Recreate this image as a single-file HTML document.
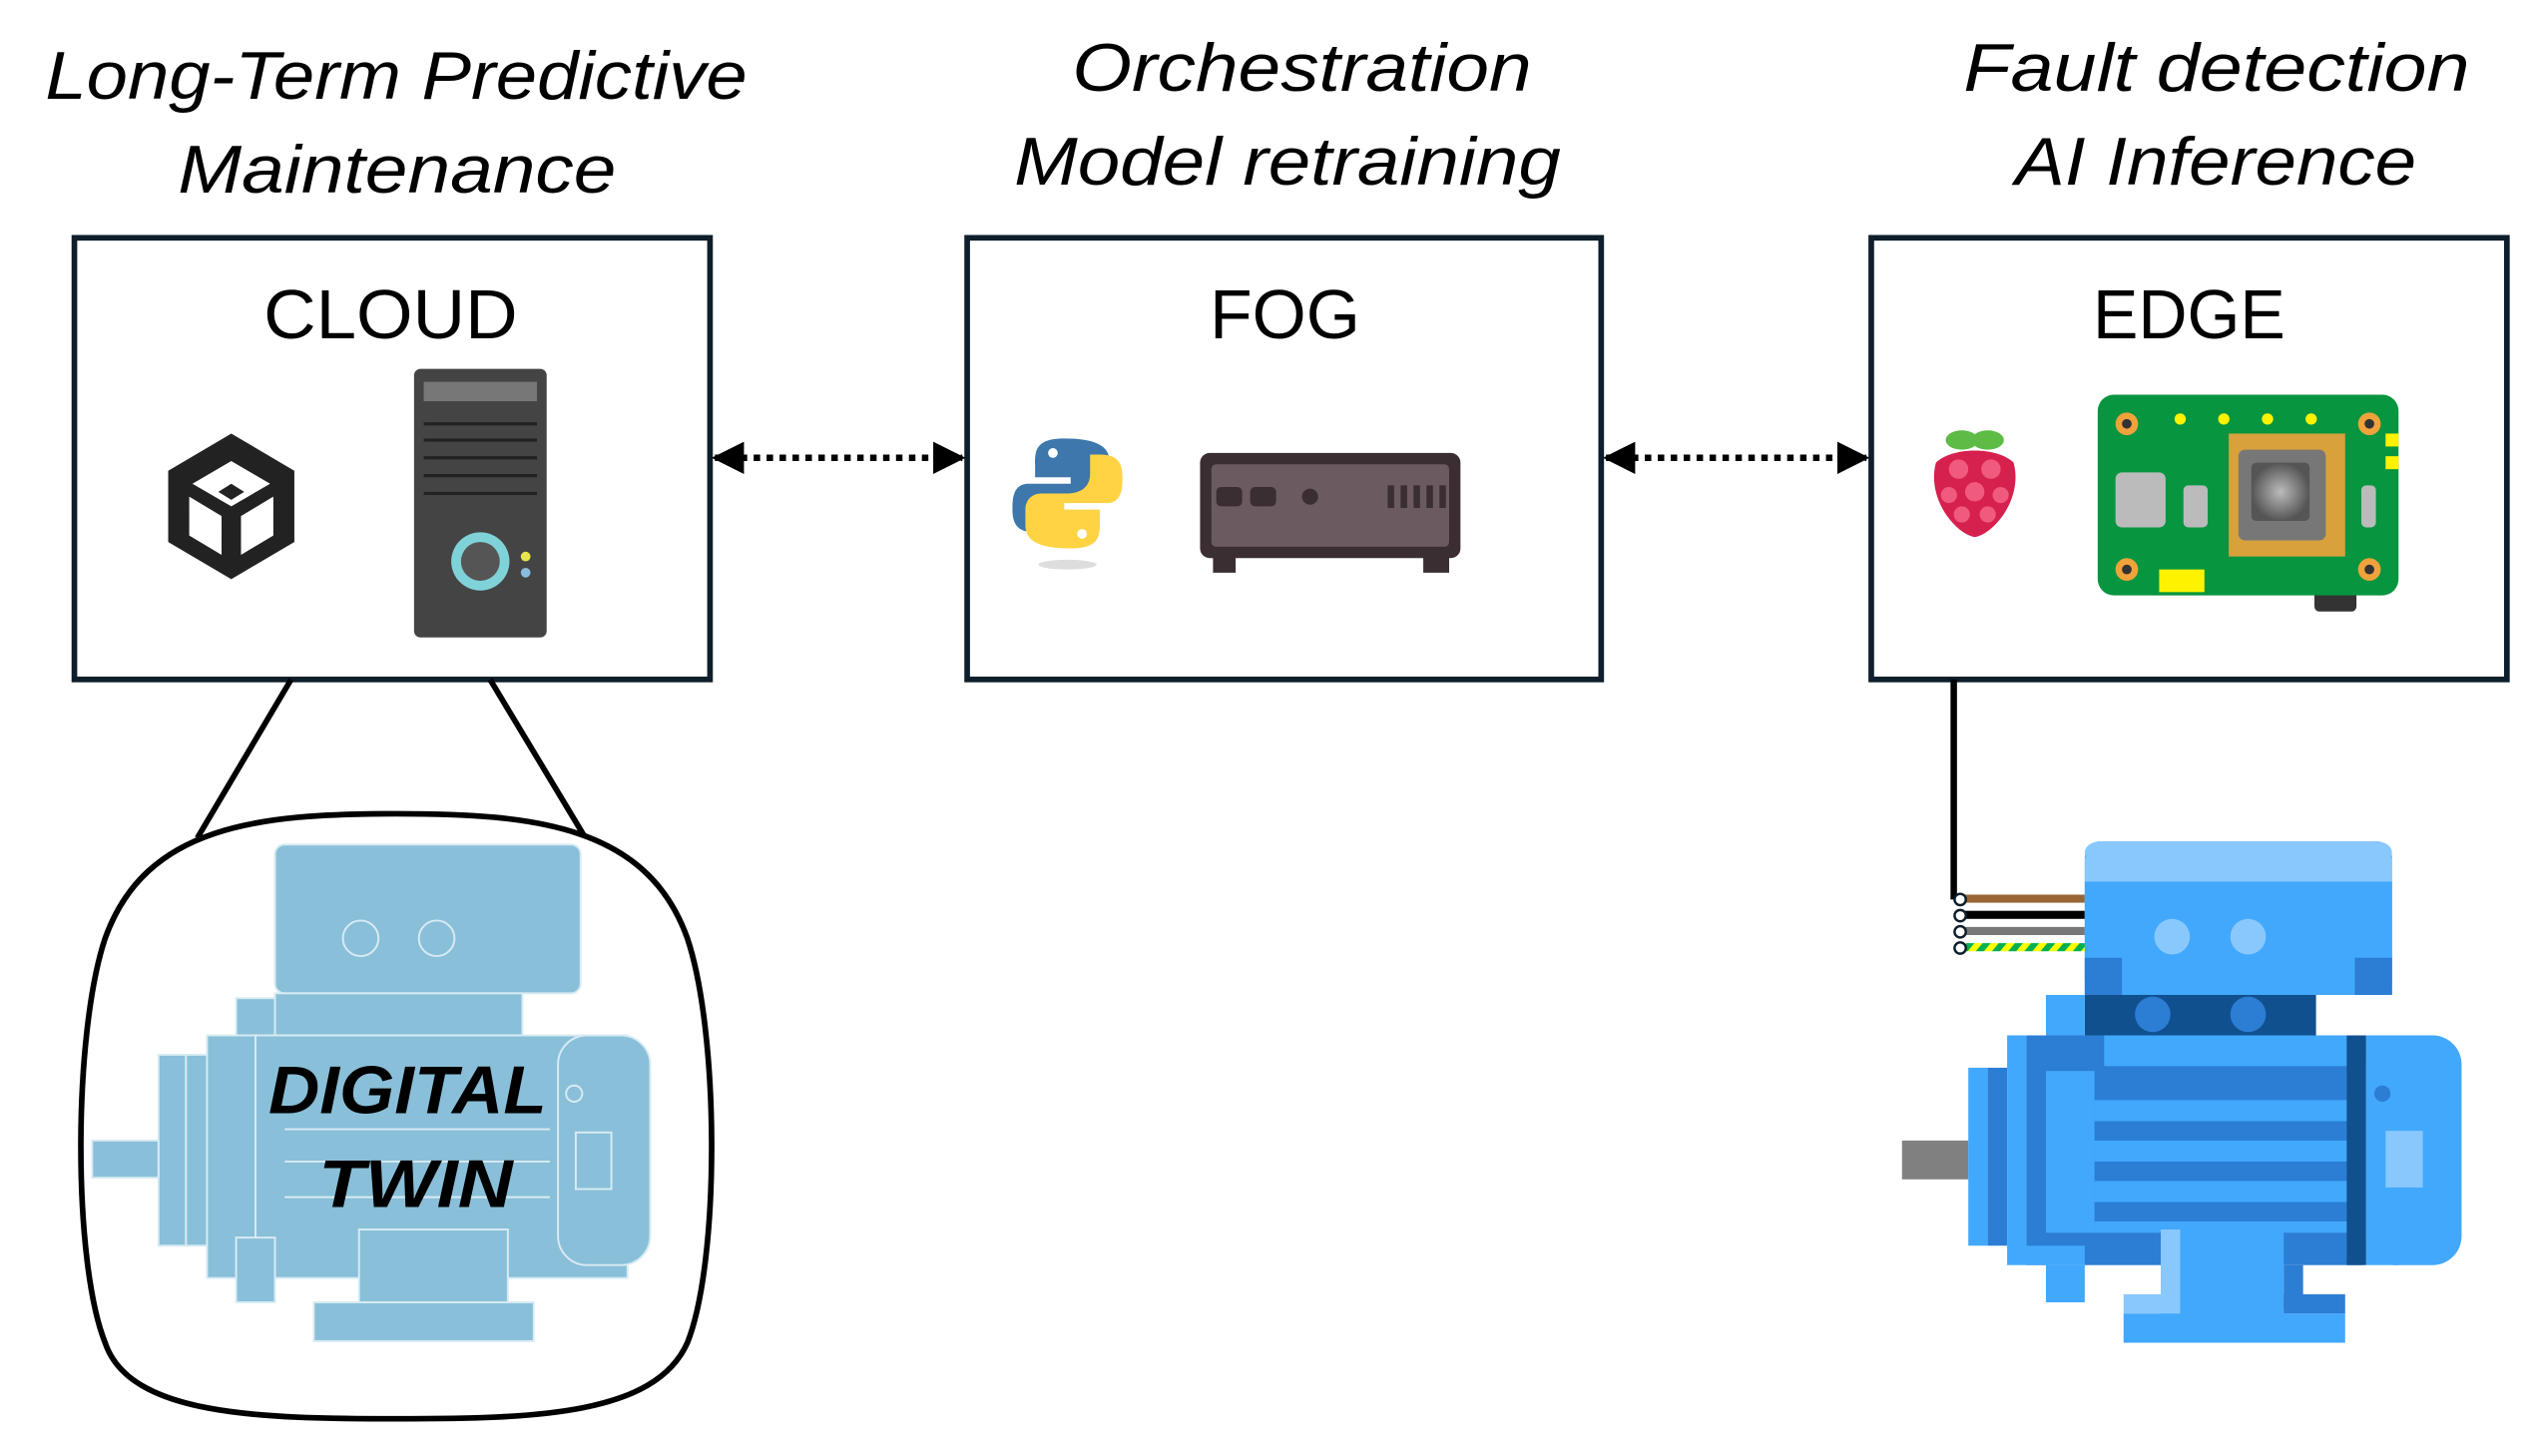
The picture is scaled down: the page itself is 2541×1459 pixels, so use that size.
<!DOCTYPE html>
<html><head><meta charset="utf-8"><style>
html,body{margin:0;padding:0;background:#fff;}
svg{display:block;}
text{font-family:"Liberation Sans",sans-serif;}
</style></head><body>
<svg width="2541" height="1459" viewBox="0 0 1568 900" preserveAspectRatio="none" xmlns="http://www.w3.org/2000/svg">
<defs>
<marker id="ah" viewBox="0 0 10 10" refX="9" refY="5" markerWidth="5" markerHeight="5" orient="auto-start-reverse"><path d="M0,0 L10,5 L0,10 z" fill="#000"/></marker>
<pattern id="gy" width="10" height="6" patternUnits="userSpaceOnUse" patternTransform="skewX(-40)"><rect width="10" height="6" fill="#00b050"/><rect width="5" height="6" fill="#ffff00"/></pattern>
<radialGradient id="chip"><stop offset="0" stop-color="#bbb"/><stop offset="1" stop-color="#555"/></radialGradient>
</defs>
<!-- titles -->
<g font-style="italic" font-size="42" fill="#000">
<text x="28" y="61" textLength="434" lengthAdjust="spacingAndGlyphs">Long-Term Predictive</text>
<text x="110" y="119" textLength="271" lengthAdjust="spacingAndGlyphs">Maintenance</text>
<text x="663" y="56" textLength="284" lengthAdjust="spacingAndGlyphs">Orchestration</text>
<text x="627" y="114" textLength="338" lengthAdjust="spacingAndGlyphs">Model retraining</text>
<text x="1214" y="56" textLength="313" lengthAdjust="spacingAndGlyphs">Fault detection</text>
<text x="1246" y="114" textLength="248" lengthAdjust="spacingAndGlyphs">AI Inference</text>
</g>
<!-- boxes -->
<g fill="none" stroke="#0e1e2a" stroke-width="3.5">
<rect x="46" y="147" width="393" height="273"/>
<rect x="598" y="147" width="392" height="273"/>
<rect x="1157" y="147" width="393" height="273"/>
</g>
<g font-size="43" fill="#000">
<text x="163" y="209" textLength="157" lengthAdjust="spacingAndGlyphs">CLOUD</text>
<text x="748" y="209" textLength="93" lengthAdjust="spacingAndGlyphs">FOG</text>
<text x="1294" y="209" textLength="119" lengthAdjust="spacingAndGlyphs">EDGE</text>
</g>
<!-- dotted arrows -->
<g stroke="#000" stroke-width="4" stroke-dasharray="4,4" fill="none">
<line x1="442" y1="283" x2="595" y2="283" marker-start="url(#ah)" marker-end="url(#ah)"/>
<line x1="993" y1="283" x2="1154" y2="283" marker-start="url(#ah)" marker-end="url(#ah)"/>
</g>
<!-- unity logo -->
<g transform="translate(143,313)">
<polygon points="0,-45 39,-22 39,22 0,45 -39,22 -39,-22" fill="#222"/>
<polygon points="0,-28 24,-14 0,0 -24,-14" fill="#fff"/>
<polygon points="-26,-6 -6,6 -6,30 -26,18" fill="#fff"/>
<polygon points="26,-6 6,6 6,30 26,18" fill="#fff"/>
<polygon points="0,-14 8,-9 0,-4 -8,-9" fill="#222"/>
</g>
<!-- server tower -->
<rect x="256" y="228" width="82" height="166" rx="4" fill="#444"/>
<rect x="262" y="236" width="70" height="12" fill="#777"/>
<g stroke="#222" stroke-width="2"><line x1="262" y1="262" x2="332" y2="262"/><line x1="262" y1="272" x2="332" y2="272"/><line x1="262" y1="283" x2="332" y2="283"/><line x1="262" y1="294" x2="332" y2="294"/><line x1="262" y1="305" x2="332" y2="305"/></g>
<circle cx="297" cy="347" r="18" fill="#7fd3d8"/><circle cx="297" cy="347" r="12" fill="#555"/>
<circle cx="325" cy="344" r="3" fill="#e6e64d"/><circle cx="325" cy="354" r="3" fill="#8bd"/>
<!-- python -->
<g transform="translate(660,305)">
<path d="M-2,-34 C-20,-34 -20,-26 -20,-18 L-20,-10 L2,-10 L2,-6 L-24,-6 C-34,-6 -34,4 -34,10 C-34,20 -30,24 -20,24 L-14,24 L-14,12 C-14,4 -8,0 0,0 L16,0 C22,0 26,-4 26,-10 L26,-20 C26,-30 16,-34 -2,-34 Z" fill="#3d77ac"/>
<path d="M2,34 C20,34 20,26 20,18 L20,10 L-2,10 L-2,6 L24,6 C34,6 34,-4 34,-10 C34,-20 30,-24 20,-24 L14,-24 L14,-12 C14,-4 8,0 0,0 L-16,0 C-22,0 -26,4 -26,10 L-26,20 C-26,30 -16,34 2,34 Z" fill="#ffd344"/>
<circle cx="-9" cy="-25" r="3" fill="#fff"/><circle cx="9" cy="25" r="3" fill="#fff"/>
<ellipse cx="0" cy="44" rx="18" ry="3" fill="#ddd"/>
</g>
<!-- mini PC -->
<rect x="742" y="280" width="161" height="65" rx="6" fill="#3a2e33"/>
<rect x="749" y="287" width="147" height="51" rx="3" fill="#6b5a60"/>
<rect x="752" y="301" width="16" height="12" rx="3" fill="#3a2e33"/><rect x="773" y="301" width="16" height="12" rx="3" fill="#3a2e33"/><circle cx="810" cy="307" r="5" fill="#3a2e33"/>
<g fill="#3a2e33"><rect x="858" y="300" width="4" height="14"/><rect x="866" y="300" width="4" height="14"/><rect x="874" y="300" width="4" height="14"/><rect x="882" y="300" width="4" height="14"/><rect x="890" y="300" width="4" height="14"/></g>
<rect x="750" y="344" width="14" height="10" fill="#3a2e33"/><rect x="880" y="344" width="16" height="10" fill="#3a2e33"/>
<!-- raspberry -->
<g transform="translate(1221,300)">
<ellipse cx="-8" cy="-28" rx="10" ry="6" fill="#5dbb46"/><ellipse cx="8" cy="-28" rx="10" ry="6" fill="#5dbb46"/>
<path d="M-24,-14 C-30,8 -12,30 0,32 C12,30 30,8 24,-14 C14,-24 -14,-24 -24,-14Z" fill="#d6204e"/>
<g fill="#f05a7e"><circle cx="-10" cy="-10" r="6"/><circle cx="10" cy="-10" r="6"/><circle cx="0" cy="4" r="6"/><circle cx="-16" cy="6" r="5"/><circle cx="16" cy="6" r="5"/><circle cx="-8" cy="18" r="5"/><circle cx="8" cy="18" r="5"/></g>
</g>
<!-- Pi board -->
<rect x="1431" y="364" width="26" height="14" rx="3" fill="#333"/>
<rect x="1297" y="244" width="186" height="124" rx="10" fill="#07953f"/>
<g fill="#f0a23b"><circle cx="1315" cy="262" r="7"/><circle cx="1465" cy="262" r="7"/><circle cx="1315" cy="352" r="7"/><circle cx="1465" cy="352" r="7"/></g>
<g fill="#333"><circle cx="1315" cy="262" r="3"/><circle cx="1465" cy="262" r="3"/><circle cx="1315" cy="352" r="3"/><circle cx="1465" cy="352" r="3"/></g>
<g fill="#fff200"><circle cx="1348" cy="259" r="3.5"/><circle cx="1375" cy="259" r="3.5"/><circle cx="1402" cy="259" r="3.5"/><circle cx="1429" cy="259" r="3.5"/><rect x="1335" y="352" width="28" height="14"/></g>
<rect x="1475" y="268" width="8" height="8" fill="#fff200"/><rect x="1475" y="282" width="8" height="8" fill="#fff200"/>
<rect x="1308" y="292" width="31" height="34" rx="4" fill="#bbb"/><rect x="1350" y="300" width="15" height="26" rx="3" fill="#bbb"/><rect x="1460" y="300" width="9" height="26" rx="3" fill="#bbb"/>
<rect x="1378" y="268" width="72" height="76" fill="#f0a23b" opacity="0.9"/>
<rect x="1384" y="278" width="54" height="56" rx="4" fill="#777"/>
<rect x="1392" y="286" width="36" height="36" rx="3" fill="url(#chip)"/>
<!-- cloud to bubble lines -->
<g stroke="#000" stroke-width="3.5"><line x1="180" y1="420" x2="122" y2="518"/><line x1="303" y1="420" x2="362" y2="518"/></g>
<!-- bubble -->
<path d="M245,503 C330,503 400,510 425,580 C445,640 445,780 425,830 C405,875 330,877 245,877 C160,877 80,875 65,830 C45,780 45,640 65,580 C90,510 160,503 245,503 Z" fill="#fff" stroke="#000" stroke-width="3.5"/>
<!-- digital twin motor -->
<g fill="#89bfd9" stroke="#d8ebf3" stroke-width="1.2">
<rect x="170" y="522" width="189" height="92" rx="6"/>
<rect x="170" y="614" width="153" height="26"/>
<rect x="146" y="617" width="24" height="25"/>
<rect x="98" y="652" width="17" height="118"/>
<rect x="115" y="652" width="14" height="118"/>
<rect x="128" y="640" width="30" height="150"/>
<rect x="158" y="640" width="230" height="150"/>
<rect x="57" y="705" width="41" height="23"/>
<rect x="345" y="640" width="57" height="142" rx="18"/>
<rect x="146" y="765" width="24" height="40"/>
<rect x="222" y="760" width="92" height="58"/>
<rect x="194" y="805" width="136" height="24"/>
</g>
<g fill="none" stroke="#d8ebf3" stroke-width="1.2"><circle cx="223" cy="580" r="11"/><circle cx="270" cy="580" r="11"/><rect x="356" y="700" width="22" height="35"/><circle cx="355" cy="676" r="5"/><line x1="176" y1="698" x2="340" y2="698"/><line x1="176" y1="718" x2="340" y2="718"/><line x1="176" y1="740" x2="340" y2="740"/></g>
<g font-style="italic" font-weight="bold" font-size="42" fill="#000">
<text x="166" y="688" textLength="172" lengthAdjust="spacingAndGlyphs">DIGITAL</text><text x="197" y="746" textLength="120" lengthAdjust="spacingAndGlyphs">TWIN</text>
</g>
<!-- edge wire -->
<line x1="1208" y1="420" x2="1208" y2="556" stroke="#000" stroke-width="4"/>
<rect x="1212" y="553" width="77" height="5" fill="#996633"/>
<rect x="1212" y="563" width="77" height="5" fill="#000"/>
<rect x="1212" y="573" width="77" height="5" fill="#777"/>
<rect x="1212" y="583" width="77" height="5" fill="url(#gy)"/>
<g fill="#fff" stroke="#0e1e2a" stroke-width="1.5"><circle cx="1212" cy="556" r="3.5"/><circle cx="1212" cy="566" r="3.5"/><circle cx="1212" cy="576" r="3.5"/><circle cx="1212" cy="586" r="3.5"/></g>
<!-- edge motor -->
<rect x="1289" y="520" width="190" height="95" rx="10" fill="#42a8fb"/>
<rect x="1289" y="530" width="190" height="15" fill="#89c8fd"/>
<rect x="1289" y="520" width="190" height="14" rx="10" fill="#89c8fd"/>
<rect x="1289" y="545" width="190" height="70" fill="#42a8fb"/>
<rect x="1289" y="592" width="23" height="23" fill="#2c7dd4"/><rect x="1456" y="592" width="23" height="23" fill="#2c7dd4"/>
<circle cx="1343" cy="579" r="11" fill="#89c8fd"/><circle cx="1390" cy="579" r="11" fill="#89c8fd"/>
<rect x="1289" y="615" width="143" height="25" fill="#10508f"/>
<circle cx="1331" cy="627" r="11" fill="#2c7dd4"/><circle cx="1390" cy="627" r="11" fill="#2c7dd4"/>
<rect x="1265" y="615" width="24" height="47" fill="#42a8fb"/>
<rect x="1176" y="705" width="41" height="24" fill="#808080"/>
<rect x="1217" y="660" width="12" height="110" fill="#42a8fb"/><rect x="1229" y="660" width="12" height="110" fill="#2c7dd4"/>
<rect x="1241" y="640" width="12" height="142" fill="#42a8fb"/>
<rect x="1253" y="640" width="208" height="142" fill="#2c7dd4"/>
<rect x="1265" y="662" width="30" height="100" fill="#42a8fb"/>
<rect x="1301" y="640" width="150" height="19" fill="#42a8fb"/>
<rect x="1295" y="680" width="156" height="13" fill="#42a8fb"/>
<rect x="1295" y="705" width="156" height="13" fill="#42a8fb"/>
<rect x="1295" y="730" width="156" height="13" fill="#42a8fb"/>
<rect x="1295" y="755" width="156" height="7" fill="#42a8fb"/>
<rect x="1451" y="640" width="12" height="142" fill="#10508f"/>
<rect x="1463" y="640" width="59" height="142" rx="18" fill="#42a8fb"/>
<rect x="1463" y="640" width="20" height="142" fill="#42a8fb"/>
<circle cx="1473" cy="676" r="5" fill="#2c7dd4"/>
<rect x="1475" y="699" width="23" height="35" fill="#89c8fd"/>
<rect x="1265" y="782" width="24" height="23" fill="#42a8fb"/>
<rect x="1253" y="770" width="36" height="12" fill="#42a8fb"/>
<rect x="1336" y="760" width="76" height="62" fill="#42a8fb"/>
<rect x="1336" y="760" width="12" height="50" fill="#89c8fd"/>
<rect x="1313" y="800" width="35" height="12" fill="#89c8fd"/>
<rect x="1412" y="782" width="12" height="28" fill="#2c7dd4"/>
<rect x="1412" y="800" width="38" height="12" fill="#2c7dd4"/>
<rect x="1313" y="812" width="137" height="18" fill="#42a8fb"/>
</svg>
</body></html>
